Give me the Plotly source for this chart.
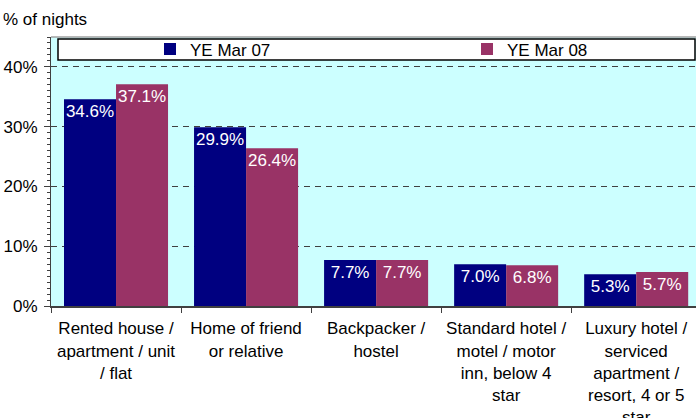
import plotly.graph_objects as go

categories = [
    "Rented house /<br>apartment / unit<br>/ flat",
    "Home of friend<br>or relative",
    "Backpacker /<br>hostel",
    "Standard hotel /<br>motel / motor<br>inn, below 4<br>star",
    "Luxury hotel /<br>serviced<br>apartment /<br>resort, 4 or 5<br>star",
]
ye_mar_07 = [34.6, 29.9, 7.7, 7.0, 5.3]
ye_mar_08 = [37.1, 26.4, 7.7, 6.8, 5.7]
series_names = ["YE Mar 07", "YE Mar 08"]
y_tickvals = [0, 10, 20, 30, 40]
y_ticktext = ["0%", "10%", "20%", "30%", "40%"]

FONT = "Liberation Sans, Arial, sans-serif"
FS = 17

L, T, B = 51, 37, 112
PW, PH = 696 - L, 418 - T - B
def px_x(x):
    return (x - L) / PW
def px_y(y):
    return (418 - B - y) / PH

fig = go.Figure()
for name, vals, col, leg in [(series_names[0], ye_mar_07, "#000080", "legend"),
                             (series_names[1], ye_mar_08, "#993366", "legend2")]:
    fig.add_trace(go.Bar(
        x=categories, y=vals, name=name, marker=dict(color=col, line=dict(width=0)),
        text=[f"{v:.1f}%" for v in vals], textposition="inside",
        insidetextanchor="end", textangle=0,
        textfont=dict(color="white", size=FS, family=FONT),
        legend=leg,
    ))

legend_common = dict(orientation="h", yanchor="middle", xanchor="left",
                     bgcolor="rgba(0,0,0,0)", borderwidth=0,
                     font=dict(size=FS, family=FONT), itemclick=False,
                     itemdoubleclick=False)

fig.update_layout(
    width=696, height=418,
    margin=dict(l=L, r=0, t=T, b=B, autoexpand=False),
    paper_bgcolor="white", plot_bgcolor="#CCFFFF",
    font=dict(family=FONT, size=FS, color="black"),
    barmode="group", bargap=0.2, bargroupgap=0,
    uniformtext=dict(minsize=FS, mode="show"),
    showlegend=True,
    legend=dict(x=px_x(150), y=px_y(49.5), **legend_common),
    legend2=dict(x=px_x(467), y=px_y(49.5), **legend_common),
    annotations=[dict(text="% of nights", x=px_x(1), xref="paper", xanchor="left",
                      y=px_y(19), yref="paper", yanchor="middle", showarrow=False,
                      font=dict(size=FS, family=FONT))],
)

fig.update_xaxes(
    type="category", range=[-0.5, 4.46], showline=True, linecolor="#404040", linewidth=2,
    ticks="outside", tickson="boundaries", ticklen=5, tickcolor="#404040",
    showgrid=False, tickfont=dict(size=FS, family=FONT), tickangle=0, automargin=False,
    ticklabelstandoff=6,
)
fig.update_yaxes(
    range=[0, 45], tickvals=y_tickvals, ticktext=y_ticktext,
    showline=True, linecolor="#404040", linewidth=1,
    ticks="outside", ticklen=6, tickcolor="#404040",
    showgrid=True, gridcolor="#404040", gridwidth=1, griddash="6px,5px",
    zeroline=False, automargin=False,
    minor=dict(dtick=1, ticks="outside", ticklen=3, tickcolor="#404040", showgrid=False),
    tickfont=dict(size=FS, family=FONT), ticklabelstandoff=3,
)
# plot area top line and legend frame
fig.add_shape(type="line", xref="paper", yref="paper", x0=0, x1=1, y0=1, y1=1,
              line=dict(color="#A0A0A0", width=1.5))
fig.add_shape(type="rect", xref="paper", yref="paper",
              x0=px_x(58), x1=px_x(695), y0=px_y(60), y1=px_y(39),
              fillcolor="white", line=dict(color="black", width=1.5), layer="above")

fig.write_html("out.html", config={"displayModeBar": False},
               post_script="document.body.style.margin='0px';")
